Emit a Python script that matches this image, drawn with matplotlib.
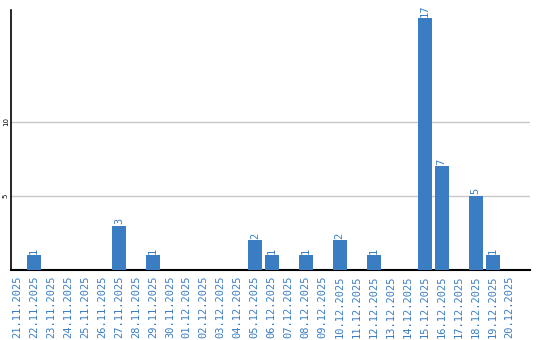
import matplotlib
matplotlib.use("Agg")
import matplotlib.pyplot as plt

dates = ["21.11.2025", "22.11.2025", "23.11.2025", "24.11.2025", "25.11.2025",
         "26.11.2025", "27.11.2025", "28.11.2025", "29.11.2025", "30.11.2025",
         "01.12.2025", "02.12.2025", "03.12.2025", "04.12.2025", "05.12.2025",
         "06.12.2025", "07.12.2025", "08.12.2025", "09.12.2025", "10.12.2025",
         "11.12.2025", "12.12.2025", "13.12.2025", "14.12.2025", "15.12.2025",
         "16.12.2025", "17.12.2025", "18.12.2025", "19.12.2025", "20.12.2025"]
values = [0, 1, 0, 0, 0, 0, 3, 0, 1, 0,
          0, 0, 0, 0, 2, 1, 0, 1, 0, 2,
          0, 1, 0, 0, 17, 7, 0, 5, 1, 0]
yticks = [5, 10]

blue = "#3a7dc3"
fig = plt.figure(figsize=(5.4, 3.4), dpi=100)
ax = fig.add_axes([11/540, 70/340, 519/540, 260/340])
x = list(range(len(dates)))
ax.bar(x, values, width=0.82, color=blue, zorder=3)
for xi, v in zip(x, values):
    if v > 0:
        ax.text(xi, v + 0.1, str(v), rotation=90, ha="center", va="bottom",
                color=blue, fontsize=7.5, family="DejaVu Sans Mono")
ax.set_xlim(-0.35, 30.2)
ax.set_ylim(0, 17.55)
ax.set_yticks(yticks)
ax.set_yticklabels([str(t) for t in yticks], rotation=90, fontsize=5, va="center")
ax.yaxis.grid(True, color="#c8c8c8", linewidth=1, zorder=0)
ax.set_xticks(x)
ax.set_xticklabels(dates, rotation=90, fontsize=7.5, color=blue, family="DejaVu Sans Mono")
ax.tick_params(axis="x", length=0, pad=4)
ax.tick_params(axis="y", length=0, pad=1.5)
for s in ["top", "right"]:
    ax.spines[s].set_visible(False)
ax.spines["left"].set_linewidth(1.2)
ax.spines["bottom"].set_linewidth(1.5)
fig.savefig("out.png", dpi=100)
